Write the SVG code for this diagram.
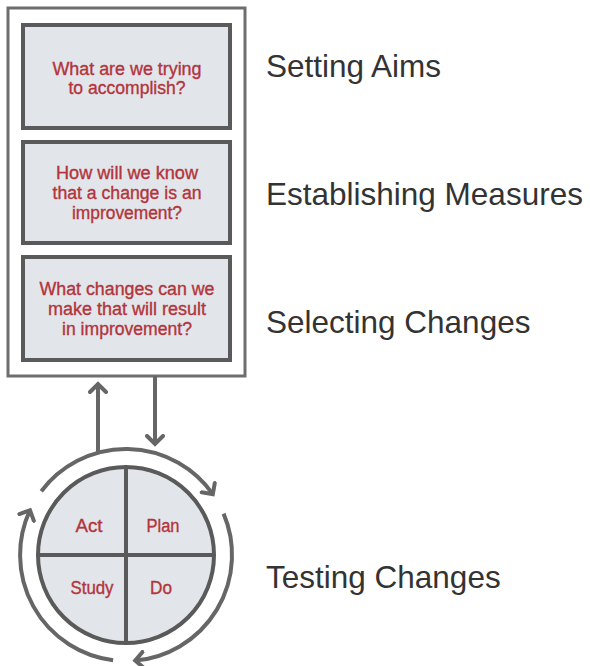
<svg xmlns="http://www.w3.org/2000/svg" width="590" height="666" viewBox="0 0 590 666">
  <style>
    .frame { fill: #ffffff; stroke: #6e6e6e; stroke-width: 3; }
    .box { fill: #e2e5ea; stroke: #5a5a5a; stroke-width: 4; }
    .q { font-family: "Liberation Sans", Arial, sans-serif; font-size: 18px; fill: #b3343b; stroke: #b3343b; stroke-width: 0.35; text-anchor: middle; }
    .label { font-family: "Liberation Sans", Arial, sans-serif; font-size: 31.5px; fill: #333333; }
    .wire { fill: none; stroke: #666666; stroke-width: 4; }
    .ring { fill: none; stroke: #666666; stroke-width: 4; }
    .wheel { fill: #e2e5ea; stroke: #5a5a5a; stroke-width: 4; }
    .cross { stroke: #5a5a5a; stroke-width: 4; }
  </style>
  <defs>
    <marker id="chev" viewBox="-10 -10 20 20" markerWidth="20" markerHeight="20" markerUnits="userSpaceOnUse" orient="auto" refX="0" refY="0">
      <path d="M -8 -8 L 0 0 L -8 8" fill="none" stroke="#666666" stroke-width="4" stroke-linecap="round" stroke-linejoin="miter"/>
    </marker>
  </defs>

  <!-- model frame -->
  <g id="frame">
    <rect class="frame" x="8" y="8" width="237" height="368"/>
  </g>

  <g id="q-aims">
    <rect class="box" x="23" y="25" width="207" height="103"/>
    <text class="q" x="127" y="75" textLength="149" lengthAdjust="spacingAndGlyphs">What are we trying</text>
    <text class="q" x="127" y="94" textLength="117" lengthAdjust="spacingAndGlyphs">to accomplish?</text>
  </g>

  <g id="q-measures">
    <rect class="box" x="23" y="142" width="207" height="101"/>
    <text class="q" x="127" y="179" textLength="142" lengthAdjust="spacingAndGlyphs">How will we know</text>
    <text class="q" x="127" y="199" textLength="149" lengthAdjust="spacingAndGlyphs">that a change is an</text>
    <text class="q" x="127" y="219" textLength="110" lengthAdjust="spacingAndGlyphs">improvement?</text>
  </g>

  <g id="q-changes">
    <rect class="box" x="23" y="257" width="207" height="103"/>
    <text class="q" x="127" y="295" textLength="175" lengthAdjust="spacingAndGlyphs">What changes can we</text>
    <text class="q" x="127" y="315" textLength="158" lengthAdjust="spacingAndGlyphs">make that will result</text>
    <text class="q" x="127" y="335" textLength="130" lengthAdjust="spacingAndGlyphs">in improvement?</text>
  </g>

  <!-- Plan-Do-Study-Act wheel -->
  <g id="pdsa">
    <circle class="wheel" cx="126" cy="555" r="88"/>
    <line class="cross" x1="126" y1="467" x2="126" y2="643"/>
    <line class="cross" x1="38" y1="555" x2="214" y2="555"/>
    <text class="q" x="89" y="532" textLength="27" lengthAdjust="spacingAndGlyphs">Act</text>
    <text class="q" x="163" y="532" textLength="33" lengthAdjust="spacingAndGlyphs">Plan</text>
    <text class="q" x="92" y="594" textLength="43" lengthAdjust="spacingAndGlyphs">Study</text>
    <text class="q" x="161" y="594" textLength="22" lengthAdjust="spacingAndGlyphs">Do</text>
  </g>

  <!-- connectors: links between frame and wheel, plus the cycle ring -->
  <g id="connectors">
    <line class="wire" x1="98" y1="453" x2="98" y2="384" marker-end="url(#chev)"/>
    <line class="wire" x1="155" y1="376" x2="155" y2="444" marker-end="url(#chev)"/>
    <!-- ring arcs, centre (126,555), r=106 -->
    <path class="ring" d="M 41.3 491.2 A 106 106 0 0 1 212.8 494.2" marker-end="url(#chev)"/>
    <path class="ring" d="M 223.6 513.6 A 106 106 0 0 1 135.2 660.6" marker-end="url(#chev)"/>
    <path class="ring" d="M 113.1 660.2 A 106 106 0 0 1 30.0 510.2" marker-end="url(#chev)"/>
  </g>

  <!-- stage labels -->
  <g id="labels">
    <text class="label" x="266" y="77">Setting Aims</text>
    <text class="label" x="266" y="205">Establishing Measures</text>
    <text class="label" x="266" y="333">Selecting Changes</text>
    <text class="label" x="266" y="588">Testing Changes</text>
  </g>
</svg>
